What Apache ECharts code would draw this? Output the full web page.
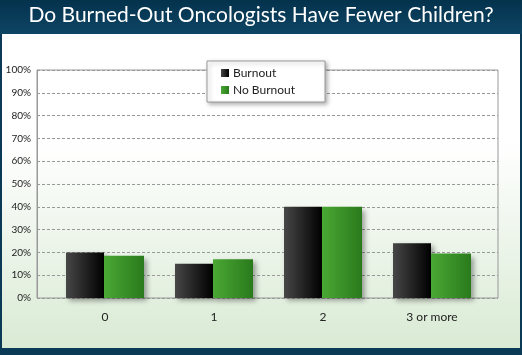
<!DOCTYPE html>
<html><head><meta charset="utf-8">
<script src="https://cdn.jsdelivr.net/npm/echarts@6/dist/echarts.min.js"></script>
<style>html,body{margin:0;padding:0;}#c{width:522px;height:355px;}</style>
</head><body><div id="c"></div>
<script>
const categories = ['0', '1', '2', '3 or more'];
const burnout = [20, 15, 40, 24];
const noBurnout = [18.5, 17, 40, 19.5];
const yTicks = [0, 10, 20, 30, 40, 50, 60, 70, 80, 90, 100];

const chart = echarts.init(document.getElementById('c'));
const blackGrad = new echarts.graphic.LinearGradient(0, 0, 1, 0, [
  {offset: 0, color: '#474747'}, {offset: 1, color: '#000000'}]);
const greenGrad = new echarts.graphic.LinearGradient(0, 0, 1, 0, [
  {offset: 0, color: '#4aa834'}, {offset: 1, color: '#2a7a1c'}]);
chart.setOption({
  animation: false,
  graphic: [
    {type: 'rect', z: -10, shape: {x: 0, y: 0, width: 522, height: 355}, style: {fill: '#0a3a55'}},
    {type: 'rect', z: -9, shape: {x: 2, y: 34, width: 518, height: 314},
      style: {fill: new echarts.graphic.LinearGradient(0, 0, 0, 1, [
        {offset: 0, color: '#ffffff'}, {offset: 0.35, color: '#ffffff'}, {offset: 1, color: '#d9ead4'}])}},
    {type: 'rect', z: -9, shape: {x: 0, y: 0, width: 522, height: 34},
      style: {fill: new echarts.graphic.LinearGradient(0, 0, 0, 1, [
        {offset: 0, color: '#04324d'}, {offset: 1, color: '#0d4564'}])}},
    {type: 'text', left: 'center', top: 5, style: {text: 'Do Burned-Out Oncologists Have Fewer Children?',
      fill: '#ffffff', fontFamily: 'Lato', fontSize: 21}}
  ],
  legend: {
    orient: 'vertical', left: 207, top: 61, width: 106,
    data: ['Burnout', 'No Burnout'],
    icon: 'rect',
    backgroundColor: '#ffffff', borderColor: '#999', borderWidth: 1,
    padding: [6, 30, 6, 14], itemWidth: 8, itemHeight: 8, itemGap: 5,
    shadowColor: 'rgba(0,0,0,0.3)', shadowBlur: 4, shadowOffsetX: 2, shadowOffsetY: 2,
    textStyle: {fontFamily: 'Lato', fontSize: 12, color: '#222', padding: [0, 0, 0, -1]},
    itemStyle: {borderWidth: 0}
  },
  grid: [
    {left: 37, right: 24, top: 70, bottom: 57, show: true, borderColor: '#999', borderWidth: 1, z: 0},
    {left: 50.5, right: 35.5, top: 70, bottom: 57}
  ],
  xAxis: [
    {gridIndex: 0, type: 'category', data: categories, show: false},
    {gridIndex: 1, type: 'category', data: categories, axisLine: {show: false}, axisTick: {show: false},
      axisLabel: {fontFamily: 'Lato', fontSize: 12, color: '#222', margin: 13}}
  ],
  yAxis: [
    {gridIndex: 0, type: 'value', min: 0, max: 100, interval: 10,
      axisLine: {show: true, lineStyle: {color: '#999'}}, axisTick: {show: false},
      splitLine: {lineStyle: {type: [3, 2], color: '#999'}},
      axisLabel: {formatter: v => yTicks.includes(v) ? v + '%' : '', fontFamily: 'Lato', fontSize: 10, color: '#222', margin: 6}},
    {gridIndex: 1, type: 'value', min: 0, max: 100, interval: 10, show: false, splitLine: {show: false}}
  ],
  series: [
    {name: 'Burnout', type: 'bar', xAxisIndex: 1, yAxisIndex: 1, data: burnout, barWidth: 38, barGap: '5%',
      itemStyle: {color: blackGrad, shadowColor: 'rgba(0,0,0,0.35)', shadowBlur: 5, shadowOffsetX: 3, shadowOffsetY: 3}},
    {name: 'No Burnout', type: 'bar', xAxisIndex: 1, yAxisIndex: 1, data: noBurnout, barWidth: 40, barGap: '0%',
      itemStyle: {color: greenGrad, shadowColor: 'rgba(0,0,0,0.35)', shadowBlur: 5, shadowOffsetX: 3, shadowOffsetY: 3}}
  ],
  color: ['#222', '#3a9a28']
});
</script></body></html>
